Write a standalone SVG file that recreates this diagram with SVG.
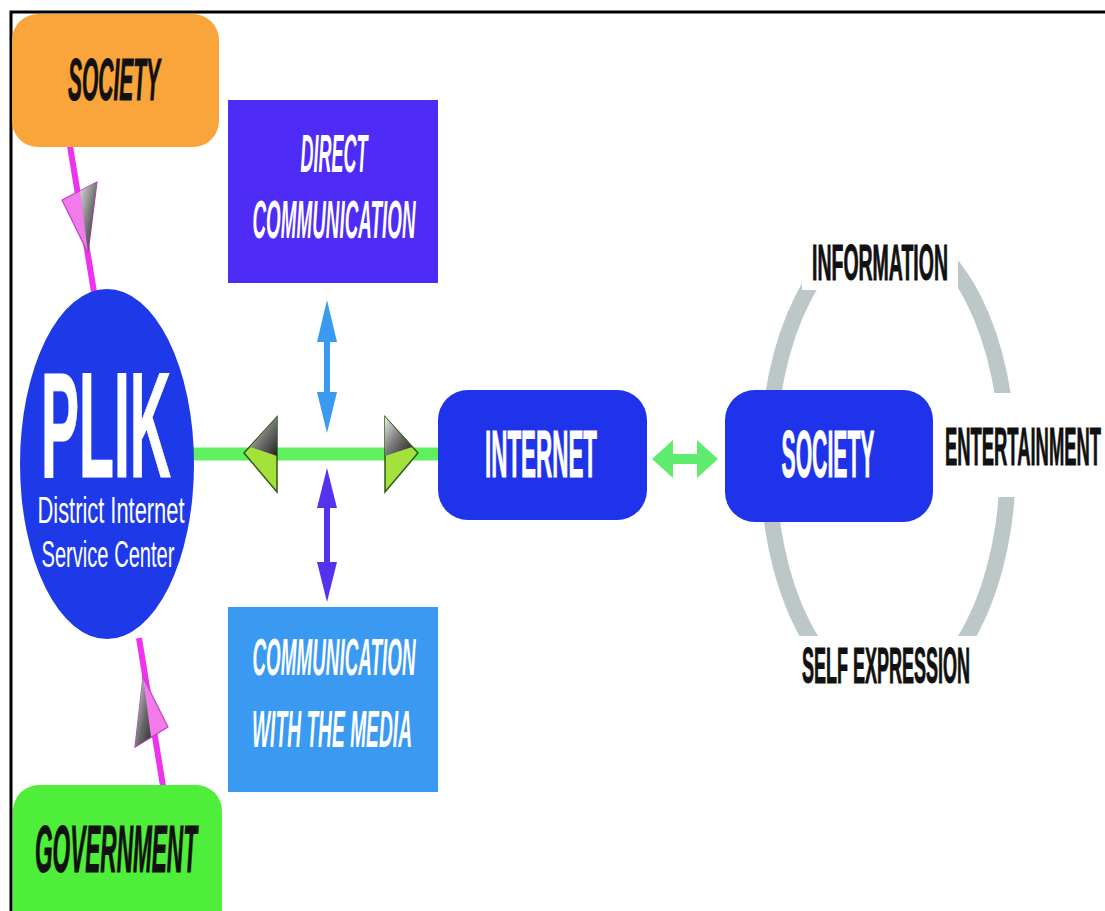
<svg xmlns="http://www.w3.org/2000/svg" width="1105" height="911" viewBox="0 0 1105 911">
<style>
.t{font-family:"Liberation Sans",Arial,sans-serif;font-weight:bold;text-anchor:middle}
.it{font-style:italic}
.w{fill:#ffffff}
.k{fill:#111111}
.ks{stroke:#111111;stroke-width:1}
.ws{stroke:#ffffff;stroke-width:1}
</style>
<defs>
<linearGradient id="gshade" x1="0" y1="0" x2="1" y2="1">
<stop offset="0" stop-color="#e8e8e8"/>
<stop offset="0.5" stop-color="#777777"/>
<stop offset="1" stop-color="#222222"/>
</linearGradient>
<linearGradient id="pshade" x1="0" y1="0" x2="1" y2="1">
<stop offset="0" stop-color="#dddddd"/>
<stop offset="0.6" stop-color="#666666"/>
<stop offset="1" stop-color="#333333"/>
</linearGradient>
</defs>
<rect x="0" y="0" width="1105" height="911" fill="#ffffff"/>
<!-- frame -->
<path d="M11,911 V12 H1105" fill="none" stroke="#000" stroke-width="3"/>

<!-- ring behind -->
<g id="ring">
<ellipse cx="888" cy="462" rx="120" ry="232" fill="none" stroke="#BCC8C8" stroke-width="16"/>
<rect x="802" y="210" width="156" height="80" fill="#fff"/>
<rect x="990" y="393" width="40" height="104" fill="#fff"/>
<rect x="795" y="636" width="185" height="80" fill="#fff"/>
</g>

<g id="connectors">
<!-- magenta lines -->
<line x1="70" y1="146" x2="94" y2="292" stroke="#EE33EE" stroke-width="6"/>
<line x1="139" y1="638" x2="163" y2="786" stroke="#EE33EE" stroke-width="6"/>
<!-- pink cones -->
<polygon points="62,200 97,182 88,253" fill="#F27AEA" stroke="#C040C0" stroke-width="1.2"/>
<polygon points="80,191 97,182 88,253" fill="url(#pshade)"/>
<polygon points="143,677 135,747 168,727" fill="#F27AEA" stroke="#C040C0" stroke-width="1.2"/>
<polygon points="143,677 135,747 151,737" fill="url(#pshade)"/>
<!-- green horizontal line -->
<line x1="190" y1="454" x2="442" y2="454" stroke="#5EF05E" stroke-width="13"/>
<!-- green cones -->
<polygon points="244,453 277,417 277,492" fill="#A3E23C" stroke="#2E5A12" stroke-width="1.5"/>
<polygon points="250,447 277,417 277,456" fill="url(#gshade)"/>
<polygon points="418,453 385,417 385,492" fill="#A3E23C" stroke="#2E5A12" stroke-width="1.5"/>
<polygon points="412,447 385,417 385,456" fill="url(#gshade)"/>
<!-- blue vertical double arrow -->
<polygon points="327,300 337,342 330,342 330,392 337,392 327,433 317,392 324,392 324,342 317,342" fill="#3A9AF0"/>
<!-- purple vertical double arrow -->
<polygon points="327,468 337,508 330,508 330,562 337,562 327,602 317,562 324,562 324,508 317,508" fill="#5533EE"/>
<!-- green horizontal double arrow -->
<polygon points="652,459 673,440 673,454 697,454 697,440 718,459 697,478 697,464 673,464 673,478" fill="#5EEB6E"/>
</g>

<g id="society-top">
<rect x="12" y="14" width="207" height="133" rx="26" fill="#F9A53C"/>
<text class="t it k ks" x="114" y="100" font-size="60" textLength="92" lengthAdjust="spacingAndGlyphs">SOCIETY</text>
</g>

<g id="government">
<rect x="13" y="785" width="209" height="150" rx="26" fill="#4FEE3A"/>
<text class="t it k ks" x="116" y="872" font-size="66" textLength="162" lengthAdjust="spacingAndGlyphs">GOVERNMENT</text>
</g>

<g id="plik">
<ellipse cx="107" cy="464" rx="87" ry="175" fill="#1E3AE8"/>
<text class="t w ws" x="106" y="477" font-size="150" textLength="130" lengthAdjust="spacingAndGlyphs">PLIK</text>
<text class="w" x="111" y="523" font-family="Liberation Sans, Arial, sans-serif" font-size="36" text-anchor="middle" textLength="147" lengthAdjust="spacingAndGlyphs">District Internet</text>
<text class="w" x="108" y="567" font-family="Liberation Sans, Arial, sans-serif" font-size="36" text-anchor="middle" textLength="133" lengthAdjust="spacingAndGlyphs">Service Center</text>
</g>

<g id="direct-communication">
<rect x="228" y="100" width="210" height="183" fill="#4F2CF5"/>
<text class="t it w" x="334" y="172" font-size="54" textLength="67" lengthAdjust="spacingAndGlyphs">DIRECT</text>
<text class="t it w" x="334" y="238" font-size="54" textLength="163" lengthAdjust="spacingAndGlyphs">COMMUNICATION</text>
</g>

<g id="media">
<rect x="228" y="607" width="210" height="185" fill="#3A9AF2"/>
<text class="t it w" x="334" y="675" font-size="52" textLength="163" lengthAdjust="spacingAndGlyphs">COMMUNICATION</text>
<text class="t it w" x="332" y="747" font-size="52" textLength="160" lengthAdjust="spacingAndGlyphs">WITH THE MEDIA</text>
</g>

<g id="internet">
<rect x="438" y="390" width="209" height="130" rx="30" fill="#1E33EA"/>
<text class="t w ws" x="541" y="477" font-size="66" textLength="112" lengthAdjust="spacingAndGlyphs">INTERNET</text>
</g>

<g id="society">
<rect x="725" y="390" width="208" height="132" rx="30" fill="#1E33EA"/>
<text class="t w ws" x="828" y="477" font-size="66" textLength="93" lengthAdjust="spacingAndGlyphs">SOCIETY</text>
</g>

<g id="information">
<text class="t k ks" x="880" y="280" font-size="50" textLength="136" lengthAdjust="spacingAndGlyphs">INFORMATION</text>
</g>
<g id="entertainment">
<text class="t k ks" x="1023" y="465" font-size="54" textLength="156" lengthAdjust="spacingAndGlyphs">ENTERTAINMENT</text>
</g>
<g id="self-expression">
<text class="t k ks" x="886" y="683" font-size="50" textLength="168" lengthAdjust="spacingAndGlyphs">SELF EXPRESSION</text>
</g>
</svg>
